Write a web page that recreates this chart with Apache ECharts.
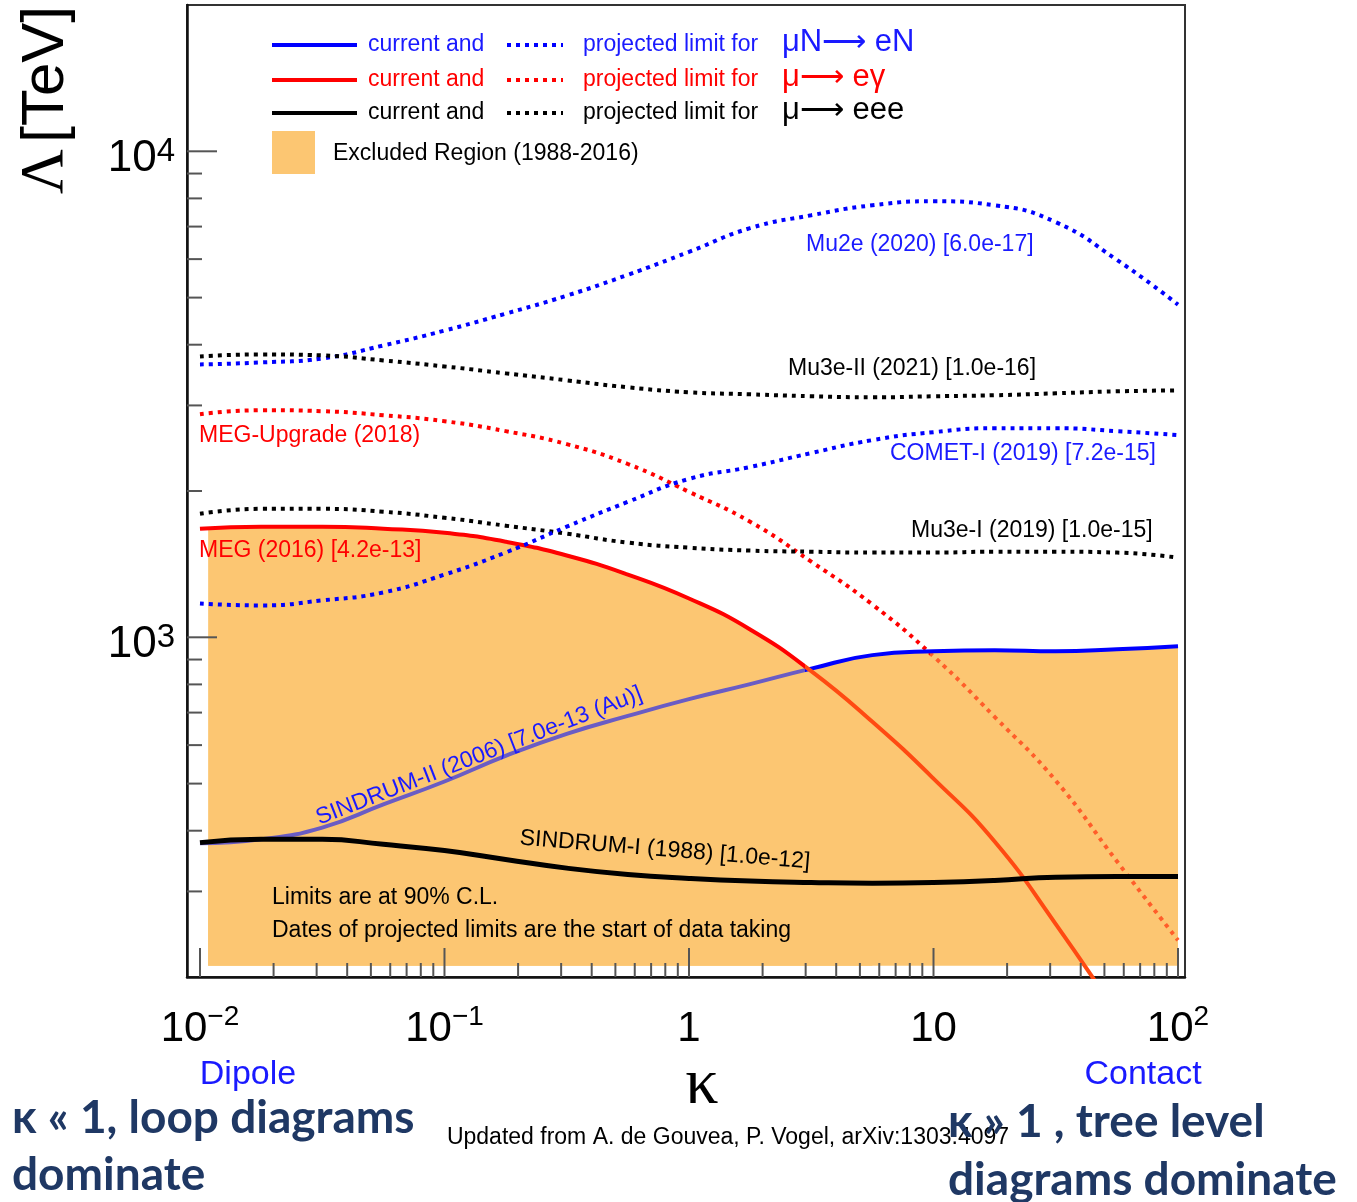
<!DOCTYPE html>
<html>
<head>
<meta charset="utf-8">
<script src="https://cdn.jsdelivr.net/npm/echarts@6.0.0/dist/echarts.min.js"></script>
<style>
html,body{margin:0;padding:0;background:#fff;}
#chart{width:1357px;height:1202px;}
</style>
</head>
<body>
<div id="chart"></div>
<script>
// ---------------- data ----------------
const kappa = [0.01, 0.01778, 0.03162, 0.05623, 0.1, 0.1778, 0.3162, 0.5623, 1, 1.778, 3.162, 5.623, 10, 17.78, 31.62, 56.23, 100];

// projected limits (dotted)
const mu2e       = [3643, 3678, 3748, 3986, 4276, 4634, 5046, 5570, 6209, 6948, 7386, 7743, 7891, 7743, 7148, 5980, 4836];
const mu3eII     = [3784, 3820, 3802, 3713, 3609, 3492, 3379, 3269, 3193, 3162, 3133, 3118, 3133, 3148, 3177, 3207, 3222];
const megUpgrade = [2877, 2933, 2919, 2864, 2784, 2656, 2497, 2273, 1992, 1729, 1431, 1168, 914, 686, 507, 346, 238];
const cometI     = [1174, 1163, 1191, 1237, 1346, 1494, 1689, 1900, 2118, 2241, 2394, 2545, 2643, 2693, 2693, 2656, 2606];
const mu3eI      = [1796, 1838, 1838, 1813, 1762, 1697, 1634, 1566, 1529, 1508, 1500, 1494, 1494, 1500, 1500, 1494, 1458];

// current limits (solid)
const meg        = [1673, 1689, 1689, 1673, 1641, 1573, 1473, 1346, 1202, 1038, 852, 670, 512, 380, 257, 168, null];
const sindrumII  = [377, 384, 406, 453, 505, 570, 633, 689, 746, 801, 862, 919, 936, 941, 936, 945, 959];
const sindrumI   = [378, 384, 384, 375, 364, 349, 335, 325, 319, 315, 313, 312, 313, 316, 321, 322, 322];

// excluded region (orange): starts a little right of the curves, sits on a floor above the axis
const excludedStartKappa = 0.0108;
const excludedStartMEG = 1675;
const excludedStartSII = 378;
const excludedFloor = 211;
const crossMEG_SII = 2.98;      // kappa where SINDRUM-II takes over the excluded-region boundary
const crossUpgrade_SII = 9.7;   // kappa where MEG-Upgrade enters the excluded region

// axes
const xMin = 0.00885, xMax = 106.8;
const yMin = 200, yMax = 20000;
const xTickValues = [0.01, 0.1, 1, 10, 100];
const xTickBase   = ['10', '10', '1', '10', '10'];
const xTickExp    = ['\u22122', '\u22121', '', '', '2'];
const yTickValues = [1000, 10000];
const yTickBase   = ['10', '10'];
const yTickExp    = ['3', '4'];
const xDecades = [0.01, 0.1, 1, 10];
const yDecades = [100, 1000, 10000];
const minorMultipliers = [2, 3, 4, 5, 6, 7, 8, 9];

// ---------------- helpers ----------------
const SANS = "'Liberation Sans', Arial, Helvetica, sans-serif";
const SERIF = "'Liberation Serif', 'Times New Roman', serif";
const BLUE = '#0000ff', RED = '#ff0000', BLACK = '#000000';
const TBLUE = '#1a1aff';
const FILL = '#fcc672';
const RED_IN = '#ff4a12';       // red line seen through the hatched fill
const RED_DOT_IN = '#ff5e2a';
const BLUE_IN = '#6a5cc4';      // blue line seen through the hatched fill
const W = 1357, H = 1202;

function pairs(xs, ys) { return xs.map((x, i) => [x, ys[i]]); }
function isDecade(v) { const l = Math.log10(v); return Math.abs(l - Math.round(l)) < 1e-6; }

const xTicks = [];
xDecades.forEach(d => { xTicks.push([d, yMin]); minorMultipliers.forEach(m => xTicks.push([d * m, yMin])); });
xTicks.push([100, yMin]);
const yTicks = [];
yDecades.forEach(d => minorMultipliers.forEach(m => { const v = d * m; if (v > yMin && v < yMax) yTicks.push([xMin, v]); }));
[1000, 10000].forEach(v => yTicks.push([xMin, v]));

function dotted(name, ys, color) {
  return { name, type: 'line', data: pairs(kappa, ys), smooth: true, symbol: 'none', clip: true,
    lineStyle: { color, width: 4, type: [4, 5], cap: 'butt' }, silent: true };
}
function solid(name, ys, color, w) {
  return { name, type: 'line', data: pairs(kappa, ys), smooth: true, symbol: 'none', clip: true,
    lineStyle: { color, width: w, type: 'solid' }, silent: true };
}
function fill(name, data) {
  return { name, type: 'line', data, smooth: true, symbol: 'none', clip: true, silent: true,
    lineStyle: { width: 0, opacity: 0 }, areaStyle: { color: FILL, opacity: 1, origin: excludedFloor } };
}

function txt(text, x, y, opts) {
  opts = opts || {};
  return { type: 'text', x, y, rotation: opts.rotation || 0, z: 100,
    style: { text, fill: opts.color || BLACK, font: opts.font || ('23px ' + SANS),
      align: opts.align || 'left', verticalAlign: opts.va || 'middle',
      textAlign: opts.align || 'left', textVerticalAlign: opts.va || 'middle', rich: opts.rich } };
}
function lline(x1, x2, y, color, dashed) {
  return { type: 'line', z: 100, shape: { x1, y1: y, x2, y2: y },
    style: { stroke: color, lineWidth: 4, lineDash: dashed ? [4, 5] : null, lineCap: 'butt' } };
}

const legendRows = [
  { y: 45, color: BLUE, tcolor: TBLUE, proc: '\u03bcN\u27f6 eN' },
  { y: 80, color: RED, tcolor: RED, proc: '\u03bc\u27f6 e\u03b3' },
  { y: 113, color: BLACK, tcolor: BLACK, proc: '\u03bc\u27f6 eee' }
];
const graphics = [];
legendRows.forEach(r => {
  graphics.push(lline(272, 357, r.y, r.color, false));
  graphics.push(txt('current and', 368, r.y, { color: r.tcolor }));
  graphics.push(lline(507, 563, r.y, r.color, true));
  graphics.push(txt('projected limit for', 583, r.y, { color: r.tcolor }));
  graphics.push(txt(r.proc, 782, r.y - 3, { color: r.tcolor, font: '31px ' + SANS }));
});
graphics.push({ type: 'rect', z: 100, shape: { x: 272, y: 131, width: 43, height: 43 }, style: { fill: FILL } });
graphics.push(txt('Excluded Region (1988-2016)', 333, 154));

// curve annotations
graphics.push(txt('Mu2e (2020) [6.0e-17]', 806, 245, { color: TBLUE }));
graphics.push(txt('Mu3e-II (2021) [1.0e-16]', 788, 369));
graphics.push(txt('MEG-Upgrade (2018)', 199, 436, { color: RED }));
graphics.push(txt('COMET-I (2019) [7.2e-15]', 890, 454, { color: TBLUE }));
graphics.push(txt('Mu3e-I (2019) [1.0e-15]', 911, 531));
graphics.push(txt('MEG (2016) [4.2e-13]', 199, 551, { color: RED }));
graphics.push(txt('SINDRUM-II (2006) [7.0e-13 (Au)]', 479, 756, { color: TBLUE, align: 'center', rotation: 0.37 }));
graphics.push(txt('SINDRUM-I (1988) [1.0e-12]', 665, 850, { align: 'center', rotation: -0.082 }));
graphics.push(txt('Limits are at 90% C.L.', 272, 898));
graphics.push(txt('Dates of projected limits are the start of data taking', 272, 931));

// axis titles & notes
graphics.push(txt('{g|\u039b} {t|[TeV]}', 46, 100, { align: 'center', rotation: Math.PI / 2,
  rich: { g: { font: '62px ' + SERIF, fill: BLACK }, t: { font: '60px ' + SANS, fill: BLACK } } }));
graphics.push(txt('\u03ba', 702, 1086, { align: 'center', font: '66px ' + SERIF }));
graphics.push(txt('Dipole', 248, 1075, { align: 'center', color: TBLUE, font: '34px ' + SANS }));
graphics.push(txt('Contact', 1143, 1075, { align: 'center', color: TBLUE, font: '34px ' + SANS }));
graphics.push(txt('Updated from A. de Gouvea, P. Vogel, arXiv:1303.4097', 728, 1138, { align: 'center', font: '23px ' + SANS }));
const NAVY = '#1f3864';
const BFONT = "bold 46px Lato, 'Open Sans', 'Noto Sans', sans-serif";
graphics.push(txt('\u03ba \u00ab 1, loop diagrams', 12, 1118, { color: NAVY, font: BFONT }));
graphics.push(txt('dominate', 12, 1175, { color: NAVY, font: BFONT }));
graphics.push(txt('\u03ba \u00bb 1 , tree level', 948, 1122, { color: NAVY, font: BFONT }));
graphics.push(txt('diagrams dominate', 948, 1180, { color: NAVY, font: BFONT }));

function tickSeries(data, horizontal) {
  return {
    type: 'custom', data, silent: true, clip: false, z: 5,
    renderItem: function (params, api) {
      const v = horizontal ? api.value(1) : api.value(0);
      const p = api.coord([api.value(0), api.value(1)]);
      const major = isDecade(v);
      const len = horizontal ? (major ? 30 : 15) : (major ? 29 : 14);
      const shape = horizontal ? { x1: p[0], y1: p[1], x2: p[0] + len, y2: p[1] }
                               : { x1: p[0], y1: p[1], x2: p[0], y2: p[1] - len };
      return { type: 'line', shape, style: { stroke: '#555', lineWidth: 2 } };
    }
  };
}

function labelFmt(values, base, exp) {
  return function (value) {
    for (let i = 0; i < values.length; i++) {
      if (Math.abs(value - values[i]) / values[i] < 1e-6) {
        return exp[i] ? '{b|' + base[i] + '}{s|' + exp[i] + '}' : '{b|' + base[i] + '}';
      }
    }
    return '';
  };
}

// excluded region = area under MEG (left) united with area under SINDRUM-II
const fillMEGData = [[excludedStartKappa, excludedStartMEG]].concat(pairs(kappa.slice(1, 12), meg.slice(1, 12)));
const fillSIIData = [[excludedStartKappa, excludedStartSII]].concat(pairs(kappa.slice(1), sindrumII.slice(1)));

const series = [
  fill('Excluded Region (MEG)', fillMEGData),                 // 0
  fill('Excluded Region (SINDRUM-II)', fillSIIData),          // 1
  dotted('Mu2e (2020)', mu2e, BLUE),                          // 2
  dotted('Mu3e-II (2021)', mu3eII, BLACK),                    // 3
  dotted('MEG-Upgrade (2018)', megUpgrade, RED),              // 4
  dotted('Mu3e-I (2019)', mu3eI, BLACK),                      // 5
  solid('SINDRUM-II (2006)', sindrumII, BLUE, 4),             // 6
  solid('MEG (2016)', meg, RED, 4),                           // 7
  dotted('COMET-I (2019)', cometI, BLUE),                     // 8
  solid('SINDRUM-I (1988)', sindrumI, BLACK, 5),              // 9
  tickSeries(xTicks, false),                                  // 10
  tickSeries(yTicks, true)                                    // 11
];

const option = {
  backgroundColor: '#ffffff',
  animation: false,
  grid: { left: 187, right: 172, top: 5, bottom: 225, show: true, borderColor: '#333', borderWidth: 2,
          containLabel: false, outerBoundsMode: 'none' },
  xAxis: {
    type: 'log', logBase: 10, min: xMin, max: xMax,
    splitLine: { show: false }, axisTick: { show: false }, minorTick: { show: false },
    axisLine: { show: true, onZero: false, lineStyle: { color: '#111', width: 2.5 } },
    axisLabel: { show: true, margin: 26, formatter: labelFmt(xTickValues, xTickBase, xTickExp),
      rich: { b: { fontFamily: SANS, fontSize: 42, lineHeight: 52, color: BLACK },
              s: { fontFamily: SANS, fontSize: 28, lineHeight: 28, verticalAlign: 'top', color: BLACK } } }
  },
  yAxis: {
    type: 'log', logBase: 10, min: yMin, max: yMax,
    splitLine: { show: false }, axisTick: { show: false }, minorTick: { show: false },
    axisLine: { show: true, onZero: false, lineStyle: { color: '#111', width: 2.5 } },
    axisLabel: { show: true, margin: 12, padding: [16, 0, 0, 0], formatter: labelFmt(yTickValues, yTickBase, yTickExp),
      rich: { b: { fontFamily: SANS, fontSize: 44, lineHeight: 48, color: BLACK },
              s: { fontFamily: SANS, fontSize: 33, lineHeight: 33, verticalAlign: 'top', color: BLACK } } }
  },
  series,
  graphic: { elements: graphics }
};

const chart = echarts.init(document.getElementById('chart'), null, { renderer: 'canvas' });
chart.setOption(option);

// colour switch where a line passes under the hatched excluded region (position from the x axis scale)
function splitColor(kCross, leftColor, rightColor) {
  const px = chart.convertToPixel({ xAxisIndex: 0, yAxisIndex: 0 }, [kCross, 1000])[0];
  const f = Math.min(1, Math.max(0, px / W));
  return new echarts.graphic.LinearGradient(0, 0, W, 0, [
    { offset: 0, color: leftColor }, { offset: f, color: leftColor },
    { offset: f, color: rightColor }, { offset: 1, color: rightColor }
  ], true);
}
const upd = series.map(() => ({}));
upd[4] = { lineStyle: { color: splitColor(crossUpgrade_SII, RED, RED_DOT_IN) } };
upd[6] = { lineStyle: { color: splitColor(crossMEG_SII, BLUE_IN, BLUE) } };
upd[7] = { lineStyle: { color: splitColor(crossMEG_SII, RED, RED_IN) } };
chart.setOption({ series: upd });
</script>
</body>
</html>
